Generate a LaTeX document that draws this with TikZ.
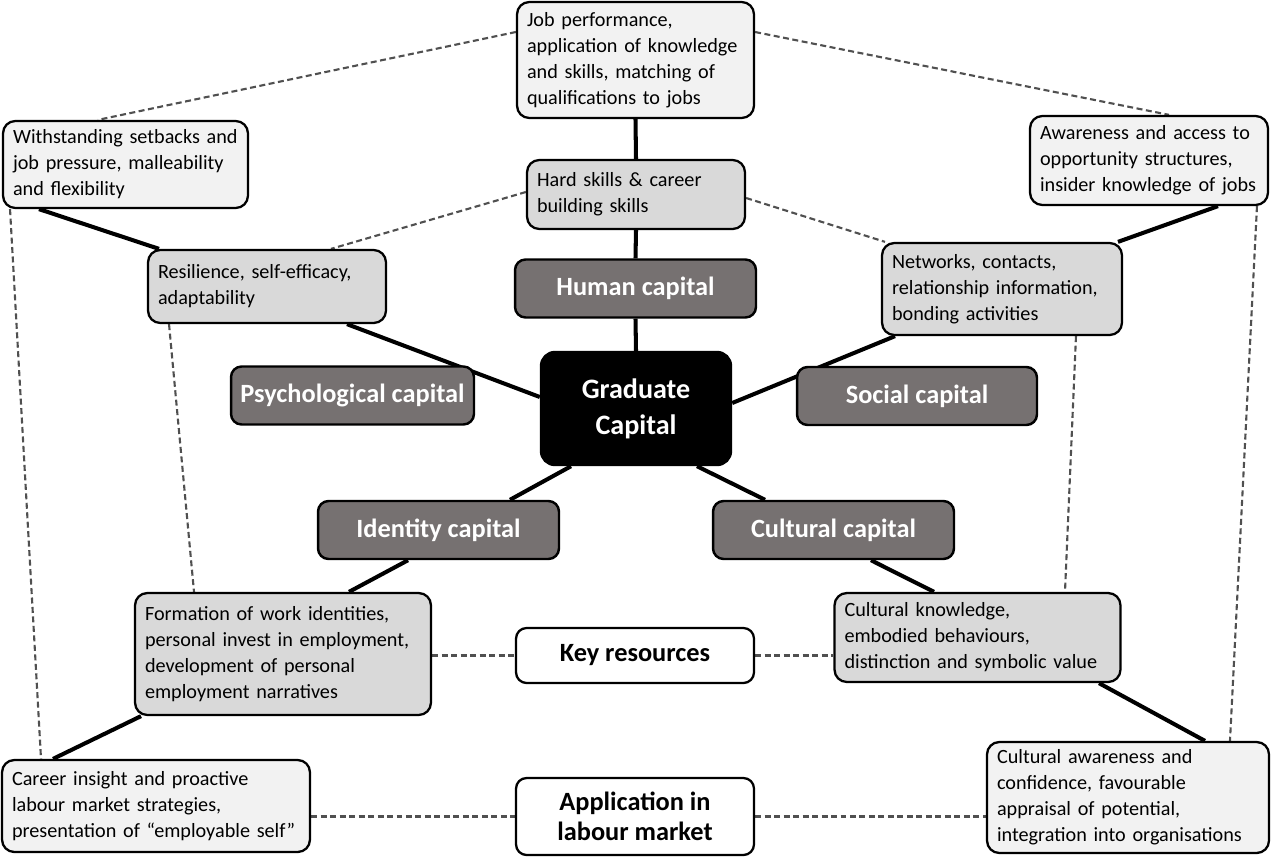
\documentclass[tikz,border=0pt]{standalone}
\usepackage{fontspec}
\setmainfont{Carlito}
\usetikzlibrary{backgrounds}
\definecolor{litefill}{HTML}{F2F2F2}
\definecolor{greyfill}{HTML}{D9D9D9}
\definecolor{capfill}{HTML}{767171}
\definecolor{dashgrey}{HTML}{505050}
\tikzset{
  resbox/.style    = {draw=black, line width=1.3pt, rounded corners=7pt, inner xsep=0.2cm, inner ysep=0pt, align=left, font=\fontsize{11.5}{14.75}\selectfont},
  litebox/.style   = {resbox, fill=litefill},
  greybox/.style   = {resbox, fill=greyfill},
  capbox/.style    = {draw=black, line width=1.4pt, rounded corners=6pt, fill=capfill, text=white, font=\fontsize{15}{18}\selectfont\bfseries, minimum width=4.82cm, minimum height=1.16cm, inner sep=0pt},
  keybox/.style    = {draw=black, line width=1.3pt, rounded corners=6pt, fill=white, align=center, font=\fontsize{15}{17}\selectfont\bfseries, minimum width=4.76cm, inner sep=0pt},
  solidlink/.style = {line width=2.3pt},
  dashlink/.style  = {dashgrey, line width=1.2pt, dash pattern=on 3.4pt off 2pt}
}

\begin{document}
\begin{tikzpicture}[x=0.02cm, y=-0.02cm]
  \useasboundingbox (0,0) rectangle (1271,856);
  % centre and the five capitals
  \node[draw=black, line width=1.4pt, rounded corners=8pt, fill=black, text=white, align=center,
        font=\fontsize{16}{20.5}\selectfont\bfseries, minimum width=3.8cm, minimum height=2.26cm,
        inner sep=0pt] (grad) at (636,408.5) {Graduate\\Capital};
  \node[capbox] (human)  at (635.5,288.5) {Human capital};
  \node[capbox, minimum width=4.86cm] (psych) at (352.5,395.5) {Psychological capital};
  \node[capbox, minimum width=4.8cm]  (social) at (917,396) {Social capital};
  \node[capbox] (ident)  at (438.5,530) {Identity capital};
  \node[capbox] (cult)   at (833.5,530) {Cultural capital};

  % key resources
  \node[greybox, text width=3.96cm, minimum height=1.38cm] (hard) at (636,194.5)
    {Hard skills \& career\\building skills};
  \node[greybox, text width=4.36cm, minimum height=1.46cm] (res) at (267,286.5)
    {Resilience, self-efficacy,\\adaptability};
  \node[greybox, text width=4.4cm, minimum height=1.84cm] (net) at (1002,289)
    {Networks, contacts,\\relationship information,\\bonding activities};
  \node[greybox, text width=5.52cm, minimum height=2.44cm] (form) at (283,654)
    {Formation of work identities,\\personal invest in employment,\\development of personal\\employment narratives};
  \node[greybox, text width=5.32cm, minimum height=1.78cm] (ck) at (977.5,637.5)
    {Cultural knowledge,\\embodied behaviours,\\distinction and symbolic value};

  % application in labour market
  \node[litebox, text width=4.34cm, minimum height=2.32cm] (job) at (635.5,60)
    {Job performance,\\application of knowledge\\and skills, matching of\\qualifications to jobs};
  \node[litebox, text width=4.5cm, minimum height=1.74cm] (ws) at (125.5,164.5)
    {Withstanding setbacks and\\job pressure, malleability\\and flexibility};
  \node[litebox, text width=4.36cm, minimum height=1.78cm] (aware) at (1149,160.5)
    {Awareness and access to\\opportunity structures,\\insider knowledge of jobs};
  \node[litebox, text width=5.76cm, minimum height=1.84cm] (career) at (156,806)
    {Career insight and proactive\\labour market strategies,\\presentation of ``employable self''};
  \node[litebox, text width=5.24cm, minimum height=2.22cm] (ca) at (1128,797.5)
    {Cultural awareness and\\confidence, favourable\\appraisal of potential,\\integration into organisations};

  % legend boxes
  \node[keybox, minimum height=1.1cm] (key) at (635,655.5) {Key resources};
  \node[keybox, minimum height=1.54cm] (appl) at (635,816.5) {Application in\\labour market};

  \begin{scope}[on background layer]
    \fill[white] (0,0) rectangle (1271,856);
    % solid links
    \draw[solidlink] (job.south) -- (hard.north) (hard.south) -- (human.north) (human.south) -- (grad.north);
    \draw[solidlink] ([xshift=-1.73cm]ws.south) -- ([xshift=-2.16cm]res.north);
    \draw[solidlink] ([xshift=1.6cm]res.south) -- ([yshift=0.23cm]grad.west);
    \draw[solidlink] ([xshift=1.38cm]aware.south) -- ([xshift=2.32cm]net.north);
    \draw[solidlink] ([xshift=-2.14cm]net.south) -- ([yshift=0.11cm]grad.east);
    \draw[solidlink] ([xshift=-1.3cm]grad.south) -- ([xshift=1.43cm]ident.north);
    \draw[solidlink] ([xshift=-0.61cm]ident.south) -- ([xshift=1.32cm]form.north);
    \draw[solidlink] ([xshift=-2.84cm]form.south) -- ([xshift=-2.06cm]career.north);
    \draw[solidlink] ([xshift=1.22cm]grad.south) -- ([xshift=-1.37cm]cult.north);
    \draw[solidlink] ([xshift=0.75cm]cult.south) -- ([xshift=-0.87cm]ck.north);
    \draw[solidlink] ([xshift=2.43cm]ck.south) -- ([xshift=1.54cm]ca.north);
    % dashed links
    \draw[dashlink] ([yshift=0.56cm]job.west) -- ([xshift=-0.55cm]ws.north);
    \draw[dashlink] ([yshift=0.56cm]job.east) -- ([xshift=0.4cm]aware.north);
    \draw[dashlink] ([yshift=0.05cm]hard.west) -- ([xshift=1.28cm]res.north);
    \draw[dashlink] ([yshift=-0.07cm]hard.east) -- ([xshift=-2.34cm]net.north);
    \draw[dashlink] ([xshift=-2.31cm]ws.south) -- ([xshift=-2.3cm]career.north);
    \draw[dashlink] ([xshift=-1.96cm]res.south) -- ([xshift=-1.78cm]form.north);
    \draw[dashlink] ([xshift=1.48cm]net.south) -- ([xshift=1.75cm]ck.north);
    \draw[dashlink] ([xshift=2.16cm]aware.south) -- ([xshift=2.04cm]ca.north);
    \draw[dashlink] (key.west -| form.east) -- (key.west);
    \draw[dashlink] (key.east) -- (key.east -| ck.west);
    \draw[dashlink] (appl.west -| career.east) -- (appl.west);
    \draw[dashlink] (appl.east) -- (appl.east -| ca.west);
  \end{scope}
\end{tikzpicture}
\end{document}
